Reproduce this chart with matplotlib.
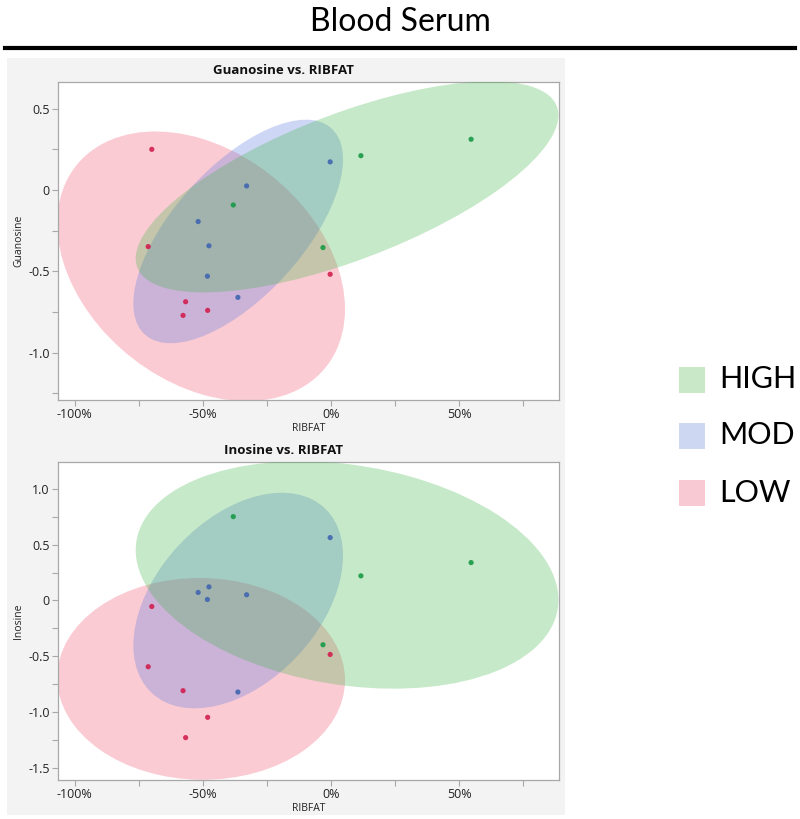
import numpy as np
import matplotlib
matplotlib.use("Agg")
import matplotlib.pyplot as plt
from matplotlib.patches import Ellipse, Rectangle
from matplotlib.lines import Line2D
from matplotlib.ticker import FixedLocator, FuncFormatter

plt.rcParams['axes.unicode_minus'] = False
plt.rcParams['font.family'] = ['Open Sans', 'DejaVu Sans']

# ---------------- data ----------------
groups = ["HIGH", "MOD", "LOW"]
ribfat_high = [-38.1, -3.1, 11.7, 54.7]
guan_high = [-0.092, -0.354, 0.211, 0.312]
ino_high = [0.752, -0.397, 0.221, 0.340]

ribfat_mod = [-32.9, -51.8, -47.6, -48.2, -36.3, -0.3]
guan_mod = [0.025, -0.194, -0.343, -0.530, -0.660, 0.173]
ino_mod = [0.051, 0.072, 0.122, 0.009, -0.821, 0.564]

ribfat_low = [-69.9, -71.3, -56.7, -57.7, -48.1, -0.3]
guan_low = [0.25, -0.348, -0.687, -0.771, -0.740, -0.518]
ino_low = [-0.054, -0.594, -1.23, -0.809, -1.048, -0.484]

x_ticks = [-100, -50, 0, 50]
guan_ticks = [0.5, 0, -0.5, -1.0]
ino_ticks = [1.0, 0.5, 0, -0.5, -1.0, -1.5]

# ---------------- styles ----------------
fill_col = {"HIGH": (0.27, 0.72, 0.30), "MOD": (0.36, 0.48, 0.87), "LOW": (0.95, 0.33, 0.45)}
pt_col = {"HIGH": "#179a45", "MOD": "#3f66b0", "LOW": "#d21f4f"}
legend_col = {"HIGH": "#c8e8c8", "MOD": "#cdd7f1", "LOW": "#f9c9d3"}
draw_order = ["LOW", "MOD", "HIGH"]

W, H = 800, 819
fig = plt.figure(figsize=(W / 100, H / 100), dpi=100)

def fx(px):
    return px / W

def fy(py):
    return 1 - py / H

# gray panel background
fig.patches.append(Rectangle((fx(7), fy(815)), fx(565) - fx(7), fy(58) - fy(815),
                             transform=fig.transFigure, facecolor="#f3f3f3",
                             edgecolor="none", zorder=-10))

# main title and rule
fig.text(0.5, fy(22), "Blood Serum", ha="center", va="center", fontsize=23,
         family=["Lato", "DejaVu Sans"])
fig.add_artist(Line2D([fx(5), fx(795)], [fy(48), fy(48)], transform=fig.transFigure,
                      color="black", linewidth=3.0))

R = np.sqrt(-2 * np.log(0.10))  # 90% density ellipse radius


def density_ellipse(ax, x, y, color, z):
    x = np.asarray(x, float)
    y = np.asarray(y, float)
    cov = np.cov(x, y)
    vals, vecs = np.linalg.eigh(cov)
    order = vals.argsort()[::-1]
    vals, vecs = vals[order], vecs[:, order]
    angle = np.degrees(np.arctan2(vecs[1, 0], vecs[0, 0]))
    e = Ellipse((x.mean(), y.mean()), 2 * R * np.sqrt(vals[0]), 2 * R * np.sqrt(vals[1]),
                angle=angle, facecolor=color, alpha=0.30, edgecolor="none", zorder=z)
    ax.add_patch(e)


def setup(ax, ylim, yticks, yminor, ylabel, title, title_y):
    ax.set_facecolor("white")
    ax.set_xlim(-106.5, 89)
    ax.set_ylim(*ylim)
    ax.xaxis.set_major_locator(FixedLocator(x_ticks))
    ax.xaxis.set_minor_locator(FixedLocator([-75, -25, 25, 75]))
    ax.yaxis.set_major_locator(FixedLocator(yticks))
    ax.yaxis.set_minor_locator(FixedLocator(yminor))
    ax.xaxis.set_major_formatter(FuncFormatter(lambda v, p: f"{v:.0f}%"))
    ax.yaxis.set_major_formatter(FuncFormatter(lambda v, p: "0" if abs(v) < 1e-9 else f"{v:.1f}"))
    for s in ax.spines.values():
        s.set_color("#a8a8a8")
        s.set_linewidth(0.9)
    ax.tick_params(which="both", length=4, color="#a8a8a8", width=0.8)
    ax.tick_params(which="major", labelsize=9, labelcolor="#222222", pad=2)
    ax.set_xlabel("RIBFAT", fontsize=7.5, color="#222222", labelpad=1)
    ax.set_ylabel(ylabel, fontsize=7.5, color="#222222", labelpad=3)
    fig.text(fx(283), fy(title_y), title, ha="center", va="center", fontsize=9.5,
             fontweight="bold", color="#111111")


panels = [
    ([fx(58), fy(400), fx(559) - fx(58), fy(82) - fy(400)],
     (guan_high, guan_mod, guan_low), (-1.291, 0.664), guan_ticks,
     [0.25, -0.25, -0.75, -1.25], "Guanosine", "Guanosine vs. RIBFAT", 70),
    ([fx(58), fy(780), fx(559) - fx(58), fy(462) - fy(780)],
     (ino_high, ino_mod, ino_low), (-1.61, 1.242), ino_ticks,
     [0.75, 0.25, -0.25, -0.75, -1.25], "Inosine", "Inosine vs. RIBFAT", 450),
]

xs = {"HIGH": ribfat_high, "MOD": ribfat_mod, "LOW": ribfat_low}

for rect, ys_tuple, ylim, yt, ym, ylab, title, ty in panels:
    ax = fig.add_axes(rect)
    ys = dict(zip(groups, ys_tuple))
    for i, g in enumerate(draw_order):
        density_ellipse(ax, xs[g], ys[g], fill_col[g], 1 + i)
    for g in groups:
        ax.scatter(xs[g], ys[g], s=14, color=pt_col[g], edgecolors="none", zorder=5, alpha=0.9)
    setup(ax, ylim, yt, ym, ylab, title, ty)

# legend
leg_y = [379.5, 435.5, 492.5]
for g, py in zip(groups, leg_y):
    fig.patches.append(Rectangle((fx(679), fy(py + 13)), fx(26), 26 / H,
                                 transform=fig.transFigure, facecolor=legend_col[g],
                                 edgecolor="none"))
    fig.text(fx(719), fy(py), g, ha="left", va="center", fontsize=22,
             family=["Lato", "DejaVu Sans"])

fig.savefig("out.png", dpi=100)
